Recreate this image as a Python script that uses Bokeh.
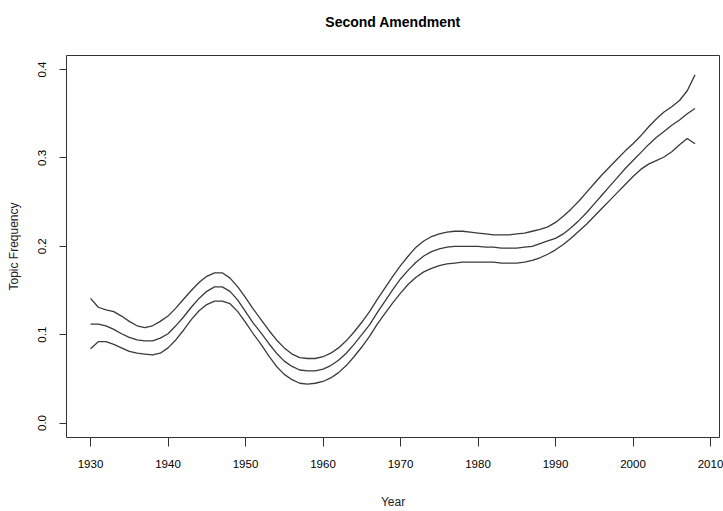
from bokeh.plotting import figure
from bokeh.models import Range1d, FixedTicker, Title
from bokeh.embed import file_html
from bokeh.resources import INLINE

years = list(range(1930, 2009))

mean_freq = [
    0.112, 0.112, 0.110, 0.106, 0.101, 0.097, 0.094, 0.093, 0.093, 0.096,
    0.101, 0.110, 0.120, 0.131, 0.141, 0.149, 0.154, 0.154, 0.149, 0.139,
    0.126, 0.113, 0.102, 0.090, 0.079, 0.070, 0.064, 0.060, 0.059, 0.059,
    0.061, 0.065, 0.071, 0.079, 0.089, 0.100, 0.111, 0.125, 0.138, 0.151,
    0.163, 0.173, 0.182, 0.189, 0.194, 0.197, 0.199, 0.200, 0.200, 0.200,
    0.200, 0.199, 0.199, 0.198, 0.198, 0.198, 0.199, 0.200, 0.203, 0.206,
    0.209, 0.214, 0.221, 0.229, 0.238, 0.248, 0.258, 0.268, 0.278, 0.288,
    0.297, 0.306, 0.315, 0.323, 0.330, 0.337, 0.343, 0.350, 0.356,
]

upper_freq = [
    0.141, 0.131, 0.128, 0.126, 0.121, 0.115, 0.110, 0.108, 0.110, 0.115,
    0.121, 0.130, 0.140, 0.150, 0.159, 0.166, 0.170, 0.170, 0.164, 0.154,
    0.142, 0.129, 0.117, 0.105, 0.094, 0.085, 0.078, 0.074, 0.073, 0.073,
    0.075, 0.079, 0.085, 0.093, 0.103, 0.114, 0.126, 0.140, 0.153, 0.166,
    0.178, 0.189, 0.199, 0.206, 0.211, 0.214, 0.216, 0.217, 0.217, 0.216,
    0.215, 0.214, 0.213, 0.213, 0.213, 0.214, 0.215, 0.217, 0.219, 0.222,
    0.227, 0.234, 0.242, 0.251, 0.261, 0.271, 0.281, 0.290, 0.299, 0.308,
    0.316, 0.325, 0.335, 0.344, 0.352, 0.358, 0.365, 0.376, 0.394,
]

lower_freq = [
    0.084, 0.092, 0.092, 0.089, 0.085, 0.081, 0.079, 0.078, 0.077, 0.079,
    0.085, 0.094, 0.105, 0.117, 0.127, 0.134, 0.138, 0.138, 0.135, 0.126,
    0.114, 0.101, 0.089, 0.076, 0.064, 0.055, 0.049, 0.045, 0.044, 0.045,
    0.047, 0.051, 0.057, 0.065, 0.075, 0.086, 0.098, 0.112, 0.124, 0.136,
    0.147, 0.157, 0.165, 0.171, 0.175, 0.178, 0.180, 0.181, 0.182, 0.182,
    0.182, 0.182, 0.182, 0.181, 0.181, 0.181, 0.182, 0.184, 0.187, 0.191,
    0.196, 0.202, 0.209, 0.217, 0.225, 0.234, 0.243, 0.252, 0.261, 0.270,
    0.279, 0.287, 0.293, 0.297, 0.301, 0.307, 0.315, 0.322, 0.316,
]

x_ticks = [1930, 1940, 1950, 1960, 1970, 1980, 1990, 2000, 2010]
y_ticks = [0.0, 0.1, 0.2, 0.3, 0.4]
title_text = "Second Amendment"

FONT = "Liberation Sans"

p = figure(
    width=723, height=511,
    output_backend="svg", toolbar_location=None,
    x_range=Range1d(1926.9, 2011.16), y_range=Range1d(-0.0164, 0.4159),
    title=title_text,
    min_border_left=66, min_border_right=4, min_border_top=55, min_border_bottom=68,
)

p.title.align = "center"
p.title.vertical_align = "middle"
p.title.text_font = FONT
p.title.text_font_size = "14px"
p.title.text_font_style = "bold"
p.title.text_color = "black"
p.title.standoff = 0

# empty spacer panel between the title and the plot frame
spacer = Title(text=" ", text_font_size="12px", standoff=9)
p.add_layout(spacer, "above")

p.grid.visible = False
p.outline_line_color = "#333333"
p.outline_line_width = 1
p.background_fill_color = "white"
p.border_fill_color = "white"

xa = p.xaxis[0]
xa.ticker = FixedTicker(ticks=x_ticks)
xa.axis_label = "Year"
xa.axis_line_color = None
xa.major_tick_out = 9
xa.major_tick_in = 0
xa.minor_tick_out = 0
xa.minor_tick_in = 0
xa.major_tick_line_color = "#333333"
xa.major_label_standoff = 13
xa.major_label_text_font = FONT
xa.major_label_text_font_size = "11.5px"
xa.major_label_text_color = "black"
xa.axis_label_text_font = FONT
xa.axis_label_text_font_size = "12px"
xa.axis_label_text_font_style = "normal"
xa.axis_label_text_color = "#222222"
xa.axis_label_standoff = 24

ya = p.yaxis[0]
ya.ticker = FixedTicker(ticks=y_ticks)
ya.major_label_overrides = {0.0: "0.0", 0.1: "0.1", 0.2: "0.2", 0.3: "0.3", 0.4: "0.4"}
ya.axis_label = "Topic Frequency"
ya.axis_line_color = None
ya.major_tick_out = 7
ya.major_tick_in = 0
ya.minor_tick_out = 0
ya.minor_tick_in = 0
ya.major_tick_line_color = "#333333"
ya.major_label_orientation = "vertical"
ya.major_label_standoff = 13
ya.major_label_text_font = FONT
ya.major_label_text_font_size = "11.5px"
ya.major_label_text_color = "black"
ya.axis_label_text_font = FONT
ya.axis_label_text_font_size = "12px"
ya.axis_label_text_font_style = "normal"
ya.axis_label_text_color = "#222222"
ya.axis_label_standoff = 15

for series in (upper_freq, mean_freq, lower_freq):
    p.line(years, series, line_color="#3a3a3a", line_width=1.3)

open("out.html", "w").write(file_html(p, INLINE))
